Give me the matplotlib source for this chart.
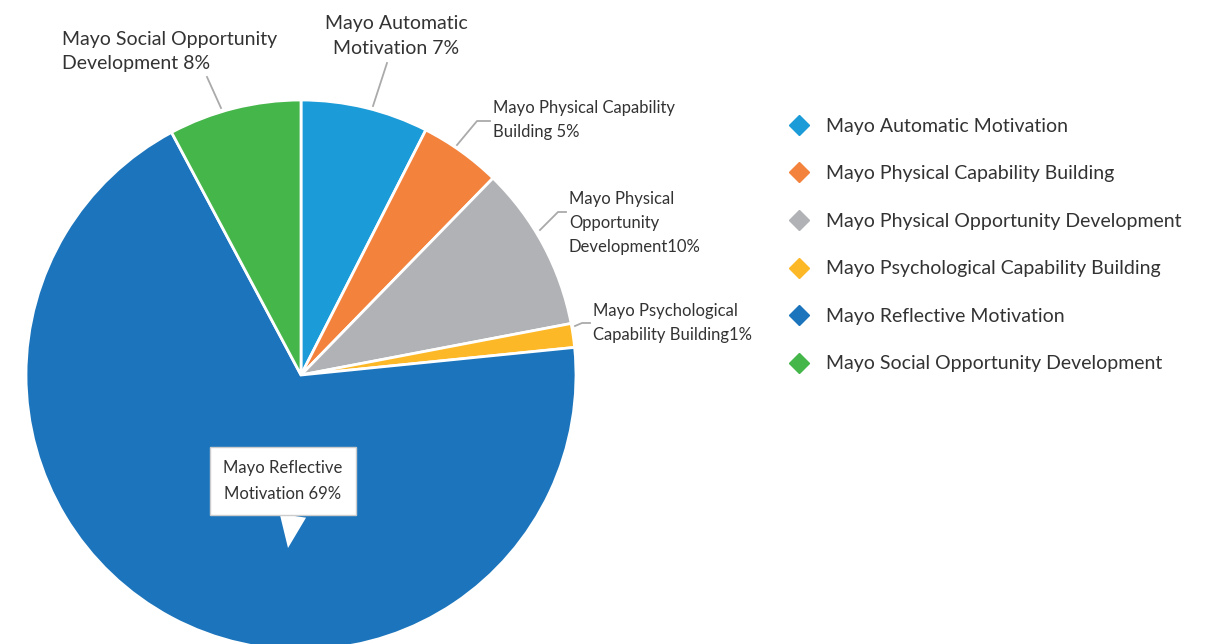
import matplotlib.pyplot as plt
from matplotlib.lines import Line2D

plt.rcParams['font.family'] = ['Lato', 'DejaVu Sans']

# slice data, clockwise from 12 o'clock
categories = ["Mayo Automatic Motivation",
              "Mayo Physical Capability Building",
              "Mayo Physical Opportunity Development",
              "Mayo Psychological Capability Building",
              "Mayo Reflective Motivation",
              "Mayo Social Opportunity Development"]
shares = [7.5, 4.8, 9.7, 1.4, 68.8, 7.8]
slice_labels = ["Mayo Automatic\nMotivation 7%",
                "Mayo Physical Capability\nBuilding 5%",
                "Mayo Physical\nOpportunity\nDevelopment10%",
                "Mayo Psychological\nCapability Building1%",
                "Mayo Reflective\nMotivation 69%",
                "Mayo Social Opportunity\nDevelopment 8%"]
colors = ["#1b9bd7", "#f2823c", "#b1b2b5", "#fdb827", "#1c75bc", "#45b64a"]

W, H = 1208, 644
CX, CY, R = 301, 375, 275
TXT = "#333333"
LEAD = "#aaaaaa"

fig = plt.figure(figsize=(W/100, H/100), dpi=100)
ax = fig.add_axes([(CX-R)/W, (H-CY-R)/H, 2*R/W, 2*R/H])

ax.pie(shares, colors=colors, startangle=90, counterclock=False, radius=1,
       wedgeprops=dict(edgecolor='white', linewidth=2))
ax.set_xlim(-1, 1)
ax.set_ylim(-1, 1)
ax.axis('off')


def px(x, y):
    # pixel position -> data coords of the pie axes
    return (x - CX) / R, (CY - y) / R


# label layout: text anchor (pixels), ha, fontsize, leader polyline (pixels)
layout = [
    ((396, 36), 'center', 14, [(373, 106), (387, 63)]),
    ((493, 120), 'left', 12, [(457, 145), (477, 121), (490, 121)]),
    ((569, 223), 'left', 12, [(540, 230), (558, 212), (566, 212)]),
    ((593, 323), 'left', 12, [(575, 326), (582, 323), (590, 323)]),
    None,
    ((62, 51), 'left', 14, [(221, 108), (207, 77)]),
]

for lab, lay in zip(slice_labels, layout):
    if lay is None:
        continue
    (tx, ty), ha, fs, pts = lay
    xs, ys = zip(*[px(*p) for p in pts])
    ax.plot(xs, ys, color=LEAD, lw=1.3, clip_on=False)
    ax.text(*px(tx, ty), lab, ha=ha, va='center', fontsize=fs, color=TXT,
            linespacing=1.65 if fs == 12 else 1.5,
            multialignment='left' if ha == 'left' else 'center', clip_on=False)

# callout for the big slice
ax.annotate(slice_labels[4], xy=px(288, 548), xytext=px(283, 481),
            ha='center', va='center', fontsize=12, color=TXT, linespacing=1.75,
            bbox=dict(boxstyle='square,pad=0.8', fc='white', ec='#cccccc', lw=1),
            arrowprops=dict(arrowstyle='wedge,tail_width=1.6,shrink_factor=0.5',
                            fc='white', ec='white', lw=0, shrinkA=0, shrinkB=0,
                            relpos=(0.6, 0.0)))

handles = [Line2D([], [], marker='D', ls='', color=c, markersize=10) for c in colors]
fig.legend(handles, categories, loc='upper left', bbox_to_anchor=(780/W, 1 - 108/H),
           frameon=False, fontsize=14, labelspacing=1.57, handlelength=1.0,
           handletextpad=0.85, borderpad=0, labelcolor=TXT)

fig.savefig("out.png", dpi=100)
